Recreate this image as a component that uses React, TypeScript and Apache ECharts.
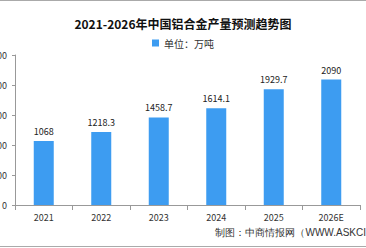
import React, { useEffect, useRef } from "react";
import * as echarts from "echarts";

const categories = ["2021", "2022", "2023", "2024", "2025", "2026E"];
const values = [1068, 1218.3, 1458.7, 1614.1, 1929.7, 2090];
const seriesName = "单位：万吨";
const titleText = "2021-2026年中国铝合金产量预测趋势图";
const sourceText = "制图：中商情报网（WWW.ASKCI";

export default function App() {
  const ref = useRef<HTMLDivElement>(null);
  useEffect(() => {
    const chart = echarts.init(ref.current!, null, { renderer: "svg" });
    const font = "'Noto Sans CJK SC', sans-serif";
    chart.setOption({
      animation: false,
      backgroundColor: "#ffffff",
      textStyle: { fontFamily: font },
      title: {
        text: titleText,
        left: "center",
        top: 12,
        textStyle: { fontSize: 12, fontWeight: "bold", color: "#111", fontFamily: font },
      },
      legend: {
        data: [seriesName],
        top: 33,
        left: "center",
        itemWidth: 7,
        itemHeight: 7,
        itemGap: 4,
        icon: "rect",
        textStyle: { fontSize: 10, color: "#333", fontFamily: font },
      },
      grid: { left: 15, right: 6, top: 55, bottom: 43, outerBoundsMode: "none", containLabel: false },
      xAxis: {
        type: "category",
        data: categories,
        axisLine: { lineStyle: { color: "#999" } },
        axisTick: { show: true, length: 5, lineStyle: { color: "#999" } },
        axisLabel: { fontSize: 9, color: "#333", margin: 8 },
      },
      yAxis: {
        type: "value",
        min: 0,
        max: 2500,
        interval: 500,
        axisLine: { show: true, lineStyle: { color: "#999" } },
        axisTick: { show: true, length: 3, lineStyle: { color: "#999" } },
        splitLine: { show: false },
        axisLabel: { fontSize: 9, color: "#333", margin: 8, formatter: (v: number) => String(v) },
      },
      series: [
        {
          name: seriesName,
          type: "bar",
          data: values,
          barWidth: 20,
          itemStyle: { color: "#3d9cf1" },
          label: {
            show: true,
            position: "top",
            distance: 5,
            fontSize: 9,
            color: "#222",
          },
        },
      ],
      graphic: [
        { type: "line", shape: { x1: 0, y1: 0.5, x2: 366, y2: 0.5 }, style: { stroke: "#aaa", lineWidth: 1 } },
        { type: "line", shape: { x1: 0, y1: 246.5, x2: 366, y2: 246.5 }, style: { stroke: "#aaa", lineWidth: 1 } },
        {
          type: "text",
          right: 0,
          top: 227,
          style: { text: sourceText, fontSize: 10, fill: "#333", font: "10px 'Noto Sans CJK SC', sans-serif" },
        },
      ],
    });
    return () => chart.dispose();
  }, []);
  return <div ref={ref} style={{ width: 366, height: 248, position: "absolute", left: 0, top: 0 }} />;
}
